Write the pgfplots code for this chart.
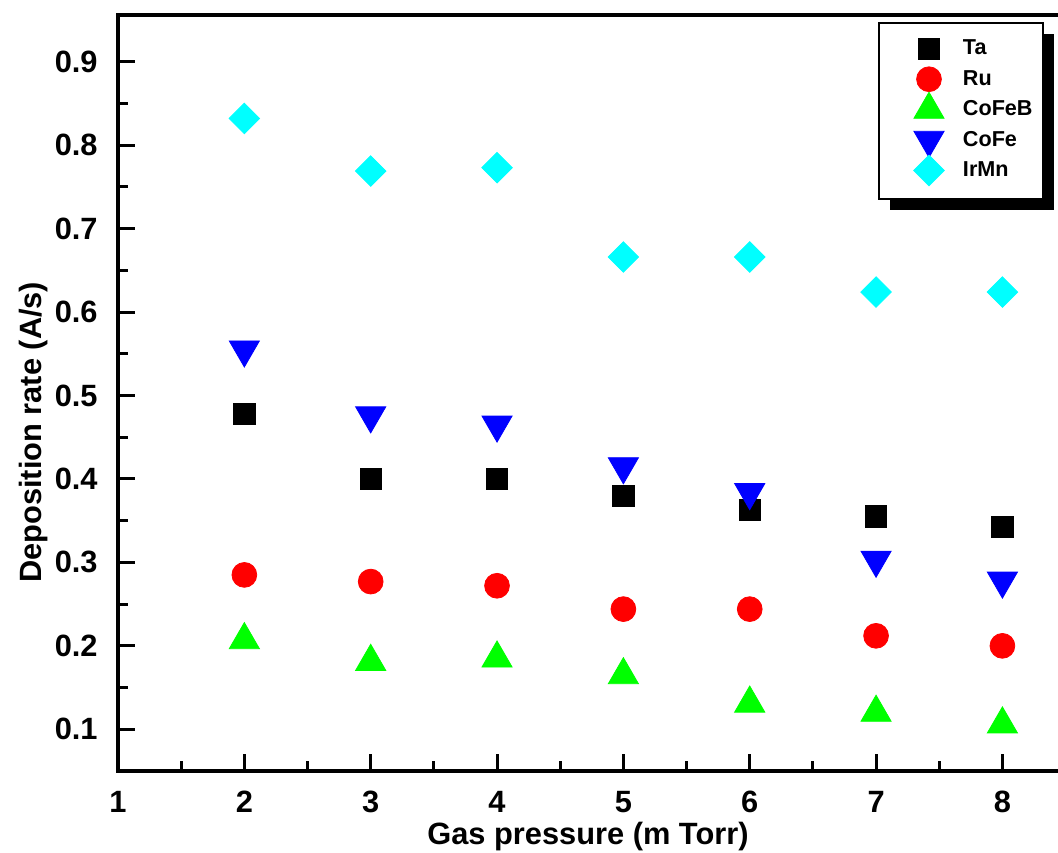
\documentclass[border=0pt]{standalone}
\usepackage{fontspec}
\setmainfont{Liberation Sans}
\usepackage{pgfplots}
\pgfplotsset{compat=1.18}
\usetikzlibrary{shadows}
\definecolor{pRed}{RGB}{255,0,0}
\definecolor{pGreen}{RGB}{0,255,0}
\definecolor{pBlue}{RGB}{0,0,255}
\definecolor{pCyan}{RGB}{0,255,255}
\begin{document}
\begin{tikzpicture}
\begin{axis}[
  scale only axis, width=470pt, height=378pt,
  xmin=1, xmax=8.44, ymin=0.05, ymax=0.956,
  clip=false,
  axis x line*=bottom, axis y line*=left,
  axis line style={line width=1.75pt,-,line cap=rect},
  xtick={1,2,3,4,5,6,7,8},
  ytick={0.1,0.2,0.3,0.4,0.5,0.6,0.7,0.8,0.9},
  minor x tick num=1, minor y tick num=1,
  tick align=inside,
  major tick length=8.5pt, minor tick length=5pt,
  every tick/.style={black,line width=1.5pt},
  /pgf/number format/assume math mode=true,
  tick label style={font=\bfseries\fontsize{15.4}{18}\selectfont},
  yticklabel style={/pgf/number format/.cd,fixed,fixed zerofill,precision=1,/tikz/.cd,anchor=east,inner sep=0pt,xshift=-10pt},
  xticklabel style={anchor=north,inner sep=0pt,yshift=-10pt},
  every axis y label/.style={at={(axis description cs:0,0.448)},xshift=-42pt,rotate=90,anchor=center,font=\bfseries\fontsize{15.4}{18}\selectfont},
  every axis x label/.style={at={(axis description cs:0.5,0)},yshift=-33pt,anchor=center,font=\bfseries\fontsize{15.4}{18}\selectfont},
  xlabel={Gas pressure (m Torr)},
  ylabel={Deposition rate (A/s)},
  legend image code/.code={\path (-19.5pt,-7.8pt) (16.5pt,6.4pt); \begin{pgfinterruptboundingbox}\draw[#1,line width=0.4pt,only marks] plot coordinates {(0pt,0pt)};\end{pgfinterruptboundingbox}},
  legend style={at={(axis description cs:0.8085,0.9907)},anchor=north west,
    draw=black,line width=1pt,fill=white,
    drop shadow={shadow xshift=5.5pt,shadow yshift=-5.5pt,fill=black,opacity=1},
    font=\bfseries\fontsize{10.8}{13}\selectfont,
    inner xsep=5pt,inner ysep=6pt,row sep=0pt,
    cells={anchor=west},nodes={inner sep=0pt}},
]
\addplot[only marks,mark=square*,mark size=5.3pt,color=black] coordinates {
(2,0.478) (3,0.400) (4,0.400) (5,0.380) (6,0.363) (7,0.355) (8,0.343)};
\addlegendentry{Ta}
\addplot[only marks,mark=*,mark size=6.2pt,color=pRed] coordinates {
(2,0.285) (3,0.277) (4,0.272) (5,0.244) (6,0.244) (7,0.212) (8,0.200)};
\addlegendentry{Ru}
\addplot[only marks,mark=triangle*,mark size=8.7pt,color=pGreen] coordinates {
(2,0.207) (3,0.181) (4,0.185) (5,0.165) (6,0.131) (7,0.120) (8,0.106)};
\addlegendentry{CoFeB}
\addplot[only marks,mark=triangle*,mark size=8.7pt,mark options={rotate=180},color=pBlue] coordinates {
(2,0.555) (3,0.476) (4,0.465) (5,0.415) (6,0.384) (7,0.303) (8,0.278)};
\addlegendentry{CoFe}
\addplot[only marks,mark=square*,mark size=5.4pt,mark options={rotate=45},color=pCyan] coordinates {
(2,0.832) (3,0.769) (4,0.773) (5,0.666) (6,0.666) (7,0.624) (8,0.624)};
\addlegendentry{IrMn}
\draw[line width=1.75pt,line cap=rect] (rel axis cs:0,1) -- (rel axis cs:1,1);
\end{axis}
\pgfresetboundingbox
\path[use as bounding box] ([shift={(-59pt,-40.5pt)}]current axis.south west) rectangle ([shift={(0pt,7.5pt)}]current axis.north east);
\end{tikzpicture}
\end{document}
